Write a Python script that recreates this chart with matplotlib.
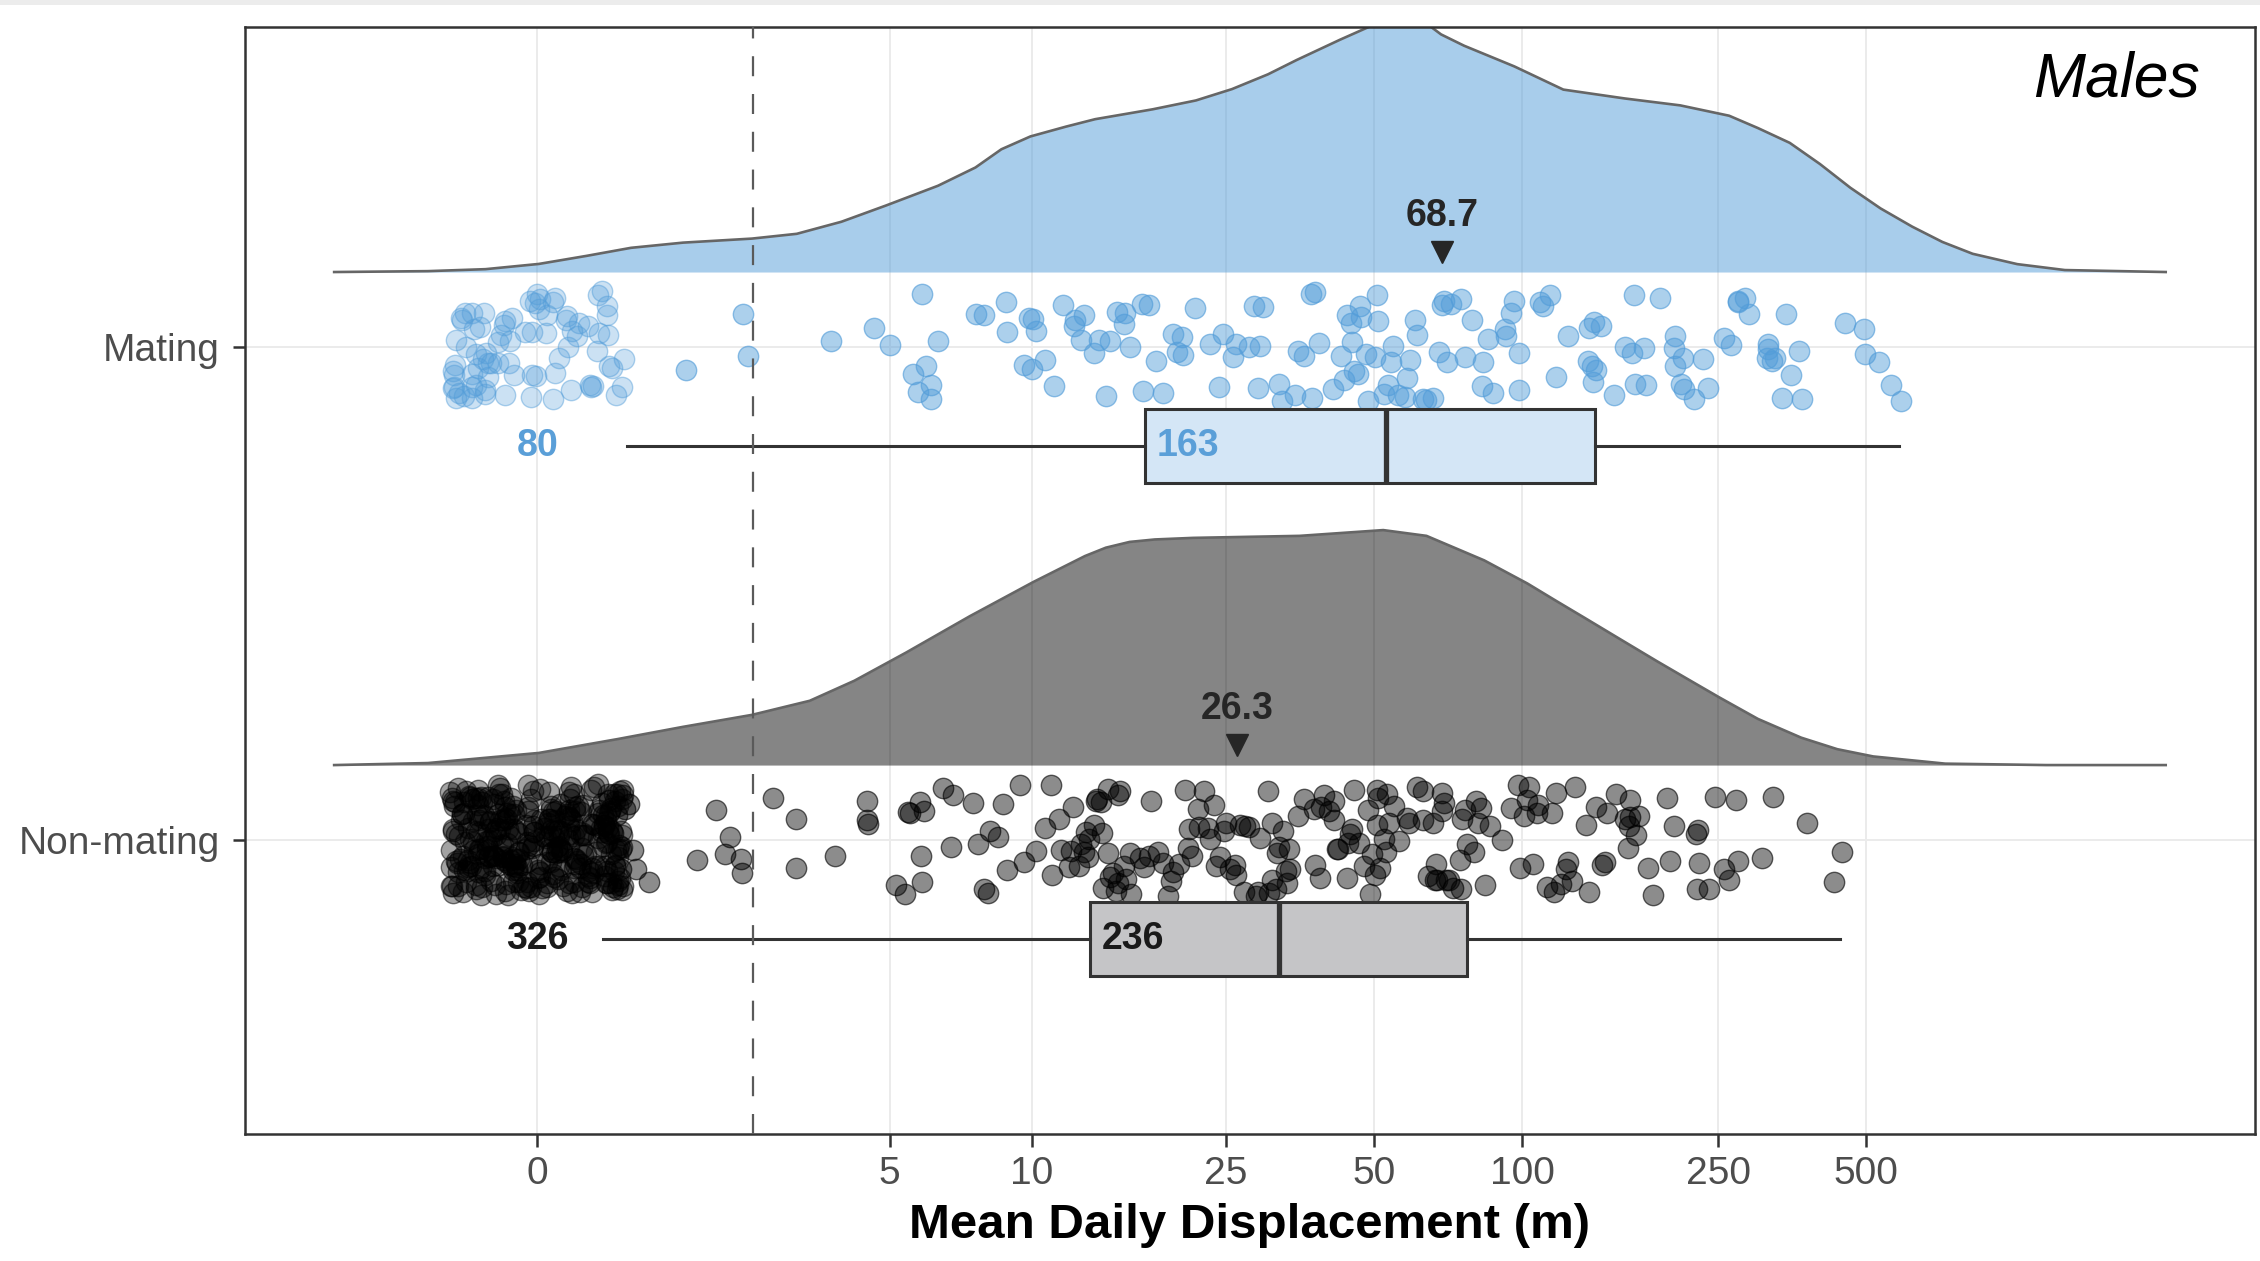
import numpy as np
import matplotlib
matplotlib.use("Agg")
import matplotlib.pyplot as plt
from matplotlib.patches import Rectangle

plt.rcParams['font.family'] = ['Liberation Sans', 'DejaVu Sans']

# ------------------------------------------------------------------ data
groups = ['Non-mating', 'Mating']
group_pos = [1, 2]
x_ticks = [0, 5, 10, 25, 50, 100, 250, 500]
x_tick_labels = ['0', '5', '10', '25', '50', '100', '250', '500']
threshold = 2.37          # dashed reference line (m)
panel_title = 'Males'
x_title = 'Mean Daily Displacement (m)'

n_zero = {'Mating': 80, 'Non-mating': 326}
n_nonzero = {'Mating': 163, 'Non-mating': 236}
group_mean = {'Mating': 68.7, 'Non-mating': 26.3}

mating_nonzero = [
    1.51, 2.23, 2.30, 3.69, 4.61, 5.02, 5.63, 5.88, 5.77, 6.00,
    6.35, 6.15, 6.15, 7.65, 7.93, 8.87, 8.85, 9.84, 9.99, 10.22,
    9.64, 10.03, 10.64, 11.12, 11.59, 12.22, 12.29, 12.65, 12.78, 13.41,
    13.73, 14.21, 14.48, 15.0, 15.48, 15.58, 15.95, 16.83, 16.90, 17.39,
    17.96, 18.59, 19.51, 19.88, 20.46, 21.59, 24.23, 24.69, 25.77, 26.25,
    27.83, 29.04, 29.36, 29.67, 32.0, 32.47, 34.49, 35.10, 37.19, 37.42,
    38.01, 38.59, 41.17, 42.76, 43.50, 44.85, 45.14, 45.62, 46.42, 46.83,
    47.11, 48.13, 50.26, 51.01, 50.81, 52.45, 53.26, 54.17, 54.75, 55.92,
    57.79, 58.41, 59.27, 60.57, 60.99, 62.94, 65.73, 67.87, 68.6, 69.36,
    70.41, 71.65, 75.12, 76.39, 78.89, 83.25, 82.87, 85.03, 87.30, 92.33,
    95.07, 96.29, 98.4, 98.5, 108.9, 110.0, 113.7, 123.8, 136.4, 135.8,
    139.4, 140.9, 140.0, 138.8, 144.8, 162.0, 167.3, 168.4, 169.8, 176.5,
    178.5, 190.2, 203.0, 204.2, 210.5, 204.0, 211.8, 213.2, 223.6, 233.4,
    257.0, 265.4, 274.2, 274.0, 283.1, 289.3, 315.2, 315.0, 314.8, 325.5,
    337.6, 343.3, 350.8, 370.1, 364.8, 451.8, 496.8, 530.0, 494.7, 560.4,
    587.3, 20.28, 23.22, 28.44, 36.05, 44.13, 48.5, 63.9, 92.6, 117.2,
    153.5, 238.0, 322.1,
]

nonmating_nonzero = [
    1.09, 1.64, 2.05, 2.20, 2.22, 1.87, 1.99, 2.68, 3.05, 3.06,
    3.77, 4.46, 4.47, 4.45, 5.15, 5.48, 5.85, 5.53, 5.82, 5.88,
    5.40, 5.94, 6.50, 6.84, 6.77, 7.55, 8.09, 7.93, 8.17, 8.49,
    8.71, 8.88, 7.74, 9.46, 9.64, 10.22, 10.64, 10.94, 11.01, 11.38,
    11.49, 12.06, 11.94, 12.60, 12.90, 12.78, 13.14, 13.41, 13.54, 13.94,
    14.35, 14.33, 14.48, 14.90, 15.05, 15.48, 15.63, 15.95, 16.72, 17.39,
    17.55, 18.59, 19.32, 19.51, 20.66, 20.86, 21.27, 21.88, 22.52, 23.17,
    23.63, 23.86, 24.33, 24.79, 25.52, 26.01, 26.25, 12.53, 13.9, 12.17,
    15.06, 13.03,
    0.62, 0.68, 0.72, 0.76, 0.80, 0.84, 0.88, 0.92, 0.96,
    27.23, 27.34, 26.64, 28.74, 29.36, 30.45, 30.64, 30.98, 31.66, 32.0, 31.7,
    13.6, 14.0, 14.7, 15.2, 16.0, 17.0, 18.2, 19.0, 20.0, 21.0,
    22.0, 23.0, 25.0, 27.8, 29.0, 31.0,
    32.69, 33.05, 33.62, 33.76, 36.02, 38.01, 38.85, 39.08, 40.53, 41.42,
    41.4, 42.31, 44.19, 44.67, 45.14, 45.62, 47.62, 48.64, 49.17, 50.26,
    50.81, 51.35, 52.45, 53.04, 53.58, 56.31, 58.41, 60.99, 62.94, 64.30,
    66.44, 66.89, 67.16, 68.6, 69.36, 70.12, 72.41, 74.76, 75.58, 76.39,
    77.21, 50.8, 68.7, 50.9,
    33.3, 35.0, 37.8, 39.5, 42.0, 44.0, 46.5, 49.5, 52.8, 55.0,
    59.0, 63.0, 66.0, 71.0, 75.0,
    79.76, 80.63, 81.5, 82.38, 86.02, 94.70, 97.83, 100.96, 102.03, 103.1,
    107.3, 107.7, 112.5, 116.1, 117.3, 122.5, 123.8, 126.5, 134.9, 136.4,
    140.9, 147.1, 148.7, 155.2, 162.0, 163.7, 164.8, 165.5, 172.8, 180.4,
    184.2, 196.5, 203.0, 226.0, 225.5, 227.5, 228.4, 246.2, 257.0, 262.5,
    274.2, 307.2, 323.2, 378.4, 430.3, 446.2, 119.9, 165.3, 271.3,
    84.0, 91.0, 99.0, 105.0, 115.0, 128.0, 145.0, 170.0, 200.0, 240.0,
]

# box summaries (non-zero values)
box_mating = dict(whislo=0.86, q1=17.1, med=52.9, q3=140.7, whishi=583.0)
box_nonmating = dict(whislo=0.62, q1=13.2, med=32.1, q3=77.2, whishi=442.0)

# density outlines: x in metres, relative height (in category units)
dens_mating_x = [-2.20, -1.069, -0.490, 0.0135, 0.462, 0.904, 1.469, 2.36, 3.066, 3.904,
                 4.912, 6.357, 7.627, 8.643, 9.93, 11.77, 13.5, 17.7, 21.7, 25.7,
                 30.43, 34.8, 42.6, 50.3, 55.8, 61.8, 68.4, 76.2, 96.4, 121.2,
                 161.6, 209.4, 263.2, 301.1, 349.4, 402.5, 463.8, 534.3, 619.6, 713.4,
                 821.9, 1012.8, 1265.0, 2027.0]
dens_mating_h = [0.0, 0.0018, 0.0058, 0.0164, 0.0327, 0.0491, 0.0596, 0.0678, 0.0775, 0.102,
                 0.135, 0.175, 0.212, 0.249, 0.275, 0.295, 0.310, 0.330, 0.348, 0.371,
                 0.401, 0.430, 0.471, 0.503, 0.518, 0.515, 0.482, 0.459, 0.417, 0.370,
                 0.352, 0.338, 0.317, 0.292, 0.262, 0.219, 0.171, 0.129, 0.092, 0.061,
                 0.037, 0.016, 0.004, 0.0]

dens_nonmating_x = [-2.20, -1.069, 0.0135, 0.773, 1.469, 2.36, 3.294, 4.177, 5.435, 7.418,
                    10.06, 12.87, 14.2, 15.89, 17.9, 21.41, 35.30, 52.2, 63.9, 83.7,
                    102.4, 117.2, 134.1, 158.9, 187.9, 218.0, 251.2, 301.1, 368.6, 436.5,
                    516.3, 723.0, 1159.0, 2027.0]
dens_nonmating_h = [0.0, 0.0041, 0.0246, 0.0529, 0.0775, 0.1018, 0.1304, 0.1711, 0.2284, 0.3018,
                    0.3711, 0.4240, 0.4409, 0.4526, 0.4576, 0.4608, 0.4649, 0.4766, 0.4649, 0.4152,
                    0.3684, 0.333, 0.2982, 0.254, 0.2105, 0.173, 0.1374, 0.0936, 0.0556, 0.0322,
                    0.0175, 0.0029, 0.0, 0.0]

# ------------------------------------------------------------------ styles
col_mating = '#539dd9'
col_mating_txt = '#5a9fd8'
col_nonmating = '#000000'
col_dark = '#333333'


def fwd(x):
    return np.arcsinh(np.asarray(x, dtype=float) / 2.0)


def inv(y):
    return 2.0 * np.sinh(np.asarray(y, dtype=float))


fig = plt.figure(figsize=(22.6, 12.61), dpi=100)
fig.add_artist(Rectangle((0, 1 - 5 / 1261), 1, 5 / 1261, transform=fig.transFigure,
                         facecolor='#ececec', edgecolor='none'))
ax = fig.add_axes([0.1084, 0.1007, 0.8894, 0.8779])
ax.set_xscale('function', functions=(fwd, inv))
ax.set_xlim(-3.67, 3078)
ax.set_ylim(0.4037, 2.649)

ax.set_xticks(x_ticks)
ax.set_xticklabels(x_tick_labels)
ax.set_yticks(group_pos)
ax.set_yticklabels(groups)
ax.minorticks_off()
ax.grid(True, color='#ebebeb', lw=1.4)
ax.set_axisbelow(True)
for s in ax.spines.values():
    s.set_color(col_dark)
    s.set_linewidth(1.8)
ax.tick_params(axis='both', length=9, width=1.8, color=col_dark,
               labelsize=28, labelcolor='#4d4d4d')
ax.tick_params(axis='x', pad=6.5)
ax.tick_params(axis='y', pad=9)

rng = np.random.default_rng(11)

specs = {
    'Mating': dict(pos=2, vals=mating_nonzero, box=box_mating,
                   dx=dens_mating_x, dh=dens_mating_h,
                   fill=col_mating, falpha=0.5, pcol=col_mating,
                   a_zero=0.30, a_nz=0.48, boxfill='#d4e6f6', txt=col_mating_txt),
    'Non-mating': dict(pos=1, vals=nonmating_nonzero, box=box_nonmating,
                       dx=dens_nonmating_x, dh=dens_nonmating_h,
                       fill=col_nonmating, falpha=0.48, pcol=col_nonmating,
                       a_zero=0.36, a_nz=0.45, boxfill='#c5c5c7', txt='#1a1a1a'),
}

for name, sp in specs.items():
    pos = sp['pos']
    # density (half violin)
    base = pos + 0.152
    dh = np.asarray(sp['dh'])
    ax.fill_between(sp['dx'], base, base + dh, color=sp['fill'], alpha=sp['falpha'],
                    lw=0, zorder=1.5)
    ax.plot(sp['dx'], base + dh, color='#666666', lw=1.9, zorder=1.6,
            solid_joinstyle='round')

    # zero values (horizontally jittered)
    nz = n_zero[name]
    zero_vals = np.zeros(nz)
    xj = inv(fwd(zero_vals) + rng.uniform(-0.41, 0.41, nz))
    yj = pos + rng.uniform(-0.113, 0.113, nz)
    c = matplotlib.colors.to_rgb(sp['pcol'])
    ax.scatter(xj, yj, s=215, facecolor=(*c, sp['a_zero']),
               edgecolor=(*c, min(1, sp['a_zero'] + 0.15)), linewidths=1.0, zorder=2)

    # non-zero values
    vals = np.asarray(sp['vals'])
    yv = pos + rng.uniform(-0.113, 0.113, len(vals))
    ax.scatter(vals, yv, s=215, facecolor=(*c, sp['a_nz']),
               edgecolor=(*c, min(1, sp['a_nz'] + 0.15)), linewidths=1.0, zorder=2.1)

    # boxplot of non-zero values
    st = dict(sp['box'])
    st['fliers'] = []
    kw = dict(positions=[pos - 0.2], widths=0.15, patch_artist=True, showcaps=False,
              showfliers=False, manage_ticks=False,
              boxprops=dict(facecolor=sp['boxfill'], edgecolor=col_dark, linewidth=2.2),
              whiskerprops=dict(color=col_dark, linewidth=2.2),
              medianprops=dict(color=col_dark, linewidth=3.8), zorder=3)
    try:
        ax.bxp([st], orientation='horizontal', **kw)
    except TypeError:
        ax.bxp([st], vert=False, **kw)

    # counts
    ax.text(0, pos - 0.2, str(n_zero[name]), ha='center', va='center',
            fontsize=27, fontweight='bold', color=sp['txt'], zorder=4)
    ax.annotate(str(n_nonzero[name]), xy=(st['q1'], pos - 0.2), xytext=(8, 0),
                textcoords='offset points', ha='left', va='center',
                fontsize=27, fontweight='bold', color=sp['txt'], zorder=4)

    # mean marker
    m = group_mean[name]
    ax.plot([m], [pos + 0.192], marker='v', ms=16, color='#262626', ls='none', zorder=4)
    ax.text(m, pos + 0.245, f'{m:.1f}', ha='center', va='baseline', fontsize=27,
            fontweight='bold', color='#262626', zorder=4)

ax.axvline(threshold, color='#5a5a5a', lw=1.6, ls=(0, (9, 8)), zorder=5)

ax.text(0.9726, 0.9368, panel_title, transform=ax.transAxes, ha='right', va='baseline',
        fontsize=45, style='italic', color='black')
fig.text(0.5531, 1 - 1238 / 1261, x_title, ha='center', va='baseline', fontsize=35.5,
         fontweight='bold', color='black')

fig.savefig('out.png', dpi=100)
